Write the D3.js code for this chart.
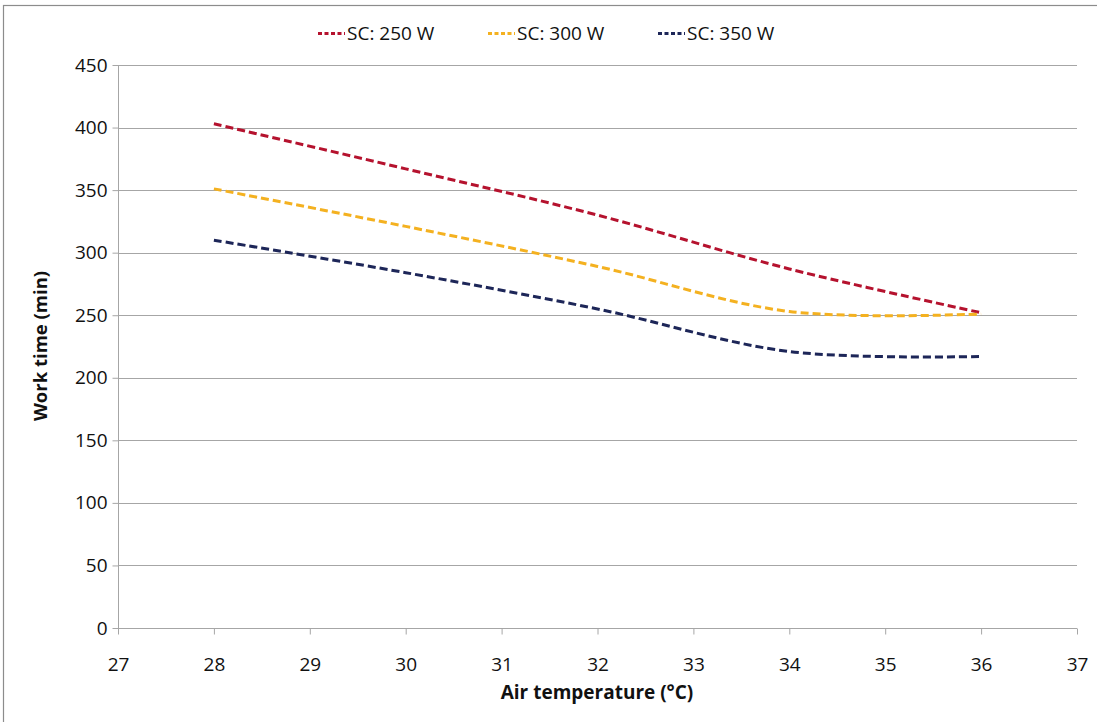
<!DOCTYPE html>
<html><head><meta charset="utf-8">
<script src="https://cdn.jsdelivr.net/npm/d3@7"></script>
<style>body{margin:0;background:#fff;} text{font-family:"Open Sans","Noto Sans",sans-serif;fill:#111;}</style>
</head><body><svg id="c" width="1097" height="722"></svg>
<script>
const temps = [28, 30, 32, 34, 36];
const sc250 = [403, 367, 330, 287, 252];
const sc300 = [351, 321, 289, 253, 251];
const sc350 = [310, 284, 255, 221, 217];
const seriesNames = ["SC: 250 W", "SC: 300 W", "SC: 350 W"];
const seriesColors = ["#b5122e", "#f4b120", "#1d2658"];
const xTicks = [27,28,29,30,31,32,33,34,35,36,37];
const yTicks = [0,50,100,150,200,250,300,350,400,450];

const svg = d3.select("#c");
svg.append("rect").attr("x",3.5).attr("y",5.5).attr("width",1110).attr("height",730)
  .attr("fill","none").attr("stroke","#8c8c8c").attr("stroke-width",1.2);

const x = d3.scaleLinear().domain([27,37]).range([118,1077]);
const y = d3.scaleLinear().domain([0,450]).range([628,65]);

// gridlines
svg.append("g").selectAll("line").data(yTicks.filter(d=>d>0)).join("line")
  .attr("x1",x(27)).attr("x2",x(37)).attr("y1",d=>Math.round(y(d))+0.5).attr("y2",d=>Math.round(y(d))+0.5)
  .attr("stroke","#a6a6a6").attr("stroke-width",1);

const yAxis = svg.append("g").attr("transform","translate(118.5,0)")
  .call(d3.axisLeft(y).tickValues(yTicks).tickSize(6).tickPadding(5));
const xAxis = svg.append("g").attr("transform","translate(0,628.5)")
  .call(d3.axisBottom(x).tickValues(xTicks).tickSize(6).tickPadding(23));
[yAxis,xAxis].forEach(a=>{
  a.selectAll("path,line").attr("stroke","#a6a6a6");
  a.selectAll("text").attr("font-size",19).attr("fill","#111").attr("font-family","'Open Sans',sans-serif");
});
xAxis.select(".domain").attr("d","M118,0H1077");
yAxis.select(".domain").attr("d","M0,65V628");

svg.append("text").attr("x",597).attr("y",699).attr("text-anchor","middle")
  .attr("font-size",19).attr("font-weight","bold").text("Air temperature (°C)");
svg.append("text").attr("transform","translate(47,346) rotate(-90)").attr("text-anchor","middle")
  .attr("font-size",18.5).attr("font-weight","bold").text("Work time (min)");

const data = [sc250, sc300, sc350];
const line = d3.line().x((d,i)=>x(temps[i])).y(d=>y(d)).curve(d3.curveCatmullRom.alpha(0.5));
data.forEach((s,k)=>{
  svg.append("path").attr("d",line(s)).attr("fill","none").attr("stroke",seriesColors[k])
    .attr("stroke-width",3).attr("stroke-dasharray","8,4");
});

// legend
const legX = [318, 488, 658];
seriesNames.forEach((n,k)=>{
  svg.append("line").attr("x1",legX[k]).attr("x2",legX[k]+27).attr("y1",33.5).attr("y2",33.5)
    .attr("stroke",seriesColors[k]).attr("stroke-width",3).attr("stroke-dasharray","4,2.5");
  svg.append("text").attr("x",legX[k]+29).attr("y",40).attr("font-size",19).text(n);
});
</script></body></html>
